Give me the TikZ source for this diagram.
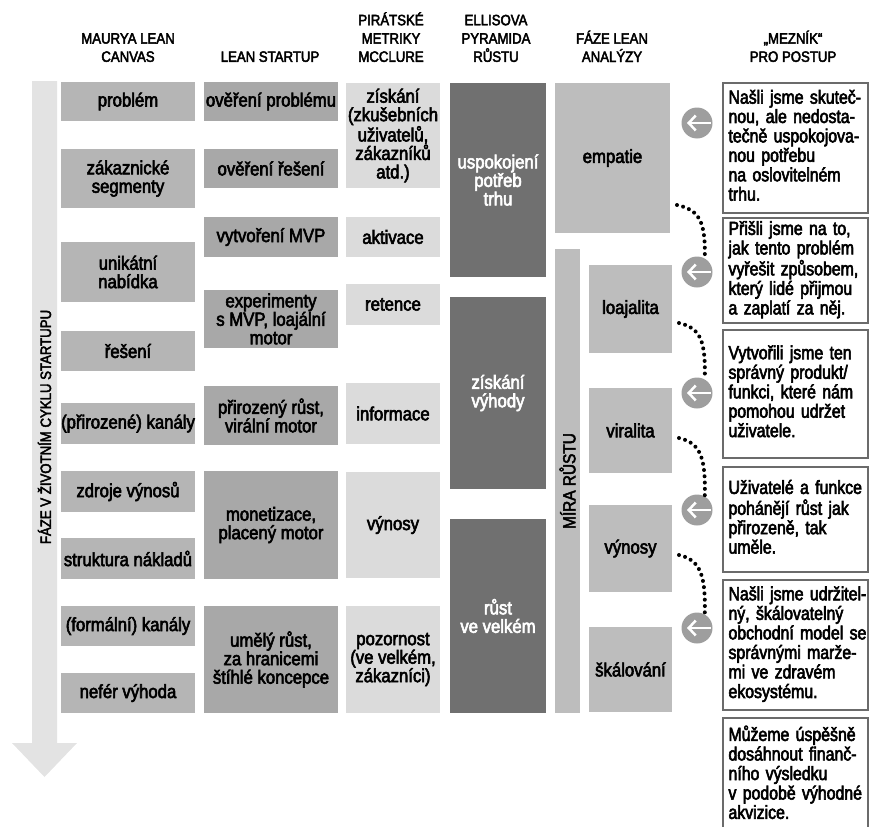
\documentclass[tikz,border=0pt]{standalone}
\usepackage{fontspec}
\setmainfont{Liberation Sans}[FakeStretch=0.88,FakeBold=3]
\newfontfamily\gatefont{Liberation Sans}[FakeStretch=0.835,FakeBold=3]
\usetikzlibrary{arrows.meta}
\definecolor{arrowgray}{gray}{0.89}
\definecolor{canvasgray}{gray}{0.71}
\definecolor{leangray}{gray}{0.66}
\definecolor{pirategray}{gray}{0.86}
\definecolor{ellisgray}{gray}{0.44}
\definecolor{phasegray}{gray}{0.74}
\definecolor{ringgray}{gray}{0.62}
\definecolor{gatedraw}{gray}{0.42}
\newcommand\boxtext{\fontsize{19}{18.5}\selectfont}
\newcommand\headtext{\fontsize{15}{18.3}\selectfont}
\newcommand\gatelines[1]{\begin{tabular}{@{}l@{}}#1\end{tabular}}
\begin{document}
\begin{tikzpicture}[x=1pt,y=-1pt,
  every node/.style={inner sep=0pt,outer sep=0pt,align=center},
  ht/.style={minimum height=#1pt},
  canvas/.style={fill=canvasgray,minimum width=134pt,font=\boxtext},
  lean/.style={fill=leangray,minimum width=134pt,font=\boxtext},
  pirate/.style={fill=pirategray,minimum width=94pt,font=\boxtext},
  ellis/.style={fill=ellisgray,minimum width=96pt,text=white,font=\boxtext},
  phase/.style={fill=phasegray,font=\boxtext},
  gate/.style={draw=gatedraw,line width=1.2pt,text width=134pt,inner xsep=5.5pt,
    align=left,font=\gatefont\boxtext},
  head/.style={anchor=south,font=\headtext},
  ring/.style={circle,fill=ringgray,minimum size=31pt},
  dotarc/.style={line width=4pt,line cap=round,dash pattern=on 0pt off 6.3pt}]
\useasboundingbox (0,0) rectangle (870,827);
% headers
\node[head] at(128,62)(hcanvas){MAURYA LEAN\\CANVAS};
\node[head] at(270,62)(hlean){LEAN STARTUP};
\node[head] at(391,62)(hpirate){PIRÁTSKÉ\\METRIKY\\MCCLURE};
\node[head] at(496,62)(hellis){ELLISOVA\\PYRAMIDA\\RŮSTU};
\node[head] at(612,62)(hphase){FÁZE LEAN\\ANALÝZY};
\node[head] at(793,62)(hgate){„MEZNÍK“\\PRO POSTUP};
% big arrow on the left
\fill[arrowgray] (32,81) -- (57,81) -- (57,743) -- (77,743) -- (44.5,777)
  -- (12,743) -- (32,743) -- cycle;
\node[rotate=90,font=\headtext] at(44.5,427)(life){FÁZE V ŽIVOTNÍM CYKLU STARTUPU};
% Maurya lean canvas
\node[canvas,ht=39] at(128,101.5)(m1){problém};
\node[canvas,ht=59] at(128,178.5)(m2){zákaznické\\segmenty};
\node[canvas,ht=60] at(128,272)(m3){unikátní\\nabídka};
\node[canvas,ht=40] at(128,351)(m4){řešení};
\node[canvas,ht=41] at(128,423.5)(m5){(přirozené) kanály};
\node[canvas,ht=41] at(128,491.5)(m6){zdroje výnosů};
\node[canvas,ht=41] at(128,558.5)(m7){struktura nákladů};
\node[canvas,ht=40] at(128,626)(m8){(formální) kanály};
\node[canvas,ht=40] at(128,693)(m9){nefér výhoda};
% lean startup
\node[lean,ht=39] at(271,101.5)(l1){ověření problému};
\node[lean,ht=39] at(271,168.5)(l2){ověření řešení};
\node[lean,ht=40] at(271,237)(l3){vytvoření MVP};
\node[lean,ht=58] at(271,319)(l4){experimenty\\s MVP, loajální\\motor};
\node[lean,ht=59] at(271,415.5)(l5){přirozený růst,\\virální motor};
\node[lean,ht=108] at(271,525)(l6){monetizace,\\placený motor};
\node[lean,ht=107] at(271,659.5)(l7){umělý růst,\\za hranicemi\\štíhlé koncepce};
% pirate metrics
\node[pirate,ht=105] at(393,135.5)(p1){získání\\(zkušebních\\uživatelů,\\zákazníků\\atd.)};
\node[pirate,ht=40] at(393,237)(p2){aktivace};
\node[pirate,ht=41] at(393,304.5)(p3){retence};
\node[pirate,ht=61] at(393,413.5)(p4){informace};
\node[pirate,ht=106] at(393,525)(p5){výnosy};
\node[pirate,ht=107] at(393,659.5)(p6){pozornost\\(ve velkém,\\zákazníci)};
% Ellis pyramid
\node[ellis,ht=194] at(498,180)(e1){uspokojení\\potřeb\\trhu};
\node[ellis,ht=192] at(498,393)(e2){získání\\výhody};
\node[ellis,ht=194] at(498,616)(e3){růst\\ve velkém};
% lean analytics stages
\node[phase,minimum width=115pt,ht=150] at(612.5,158)(emp){empatie};
\node[phase,minimum width=25pt,ht=464] at(567.5,481)(rate){};
\node[rotate=90,font=\fontsize{17.5}{18}\selectfont] at(rate.center)(ratelbl){MÍRA RŮSTU};
\node[phase,minimum width=83pt,ht=88] at(630.5,309)(loaj){loajalita};
\node[phase,minimum width=83pt,ht=85] at(630.5,430.5)(vir){viralita};
\node[phase,minimum width=83pt,ht=87] at(630.5,548.5)(vyn){výnosy};
\node[phase,minimum width=83pt,ht=85] at(630.5,669.5)(skal){škálování};
% gates
\foreach \n/\y in {1/123,2/272,3/393,4/510,5/628}{
  \node[ring] at(697,\y)(c\n){};
  \draw[white,line width=2.5pt,-{Straight Barb[length=7pt,width=15pt]}]
    ([xshift=-2pt]c\n.east) -- ([xshift=-10pt]c\n.center);
}
\foreach \a/\b/\s in {emp/c2/28,loaj/c3/30,vir/c4/35,vyn/c5/37}
  \draw[dotarc] ([xshift=7pt,yshift=\s pt]\a.south east)
    .. controls +(22,5) and +(1,-38) .. (\b.60);
\node[gate,minimum height=130pt] at(795.5,148)(g1){\gatelines{Našli jsme skuteč-\\nou, ale nedosta-\\tečně uspokojova-\\nou potřebu\\na oslovitelném\\trhu.}};
\node[gate,minimum height=105pt] at(795.5,270.5)(g2){\gatelines{Přišli jsme na to,\\jak tento problém\\vyřešit způsobem,\\který lidé přijmou\\a zaplatí za něj.}};
\node[gate,minimum height=128pt] at(795.5,394)(g3){\gatelines{Vytvořili jsme ten\\správný produkt/\\funkci, které nám\\pomohou udržet\\uživatele.}};
\node[gate,minimum height=105pt] at(795.5,519.5)(g4){\gatelines{Uživatelé a funkce\\pohánějí růst jak\\přirozeně, tak\\uměle.}};
\node[gate,minimum height=130pt] at(795.5,645)(g5){\gatelines{Našli jsme udržitel-\\ný, škálovatelný\\obchodní model se\\správnými marže-\\mi ve zdravém\\ekosystému.}};
\node[gate,minimum height=114pt] at(795.5,775)(g6){\gatelines{Můžeme úspěšně\\dosáhnout finanč-\\ního výsledku\\v podobě výhodné\\akvizice.}};
\end{tikzpicture}
\end{document}
